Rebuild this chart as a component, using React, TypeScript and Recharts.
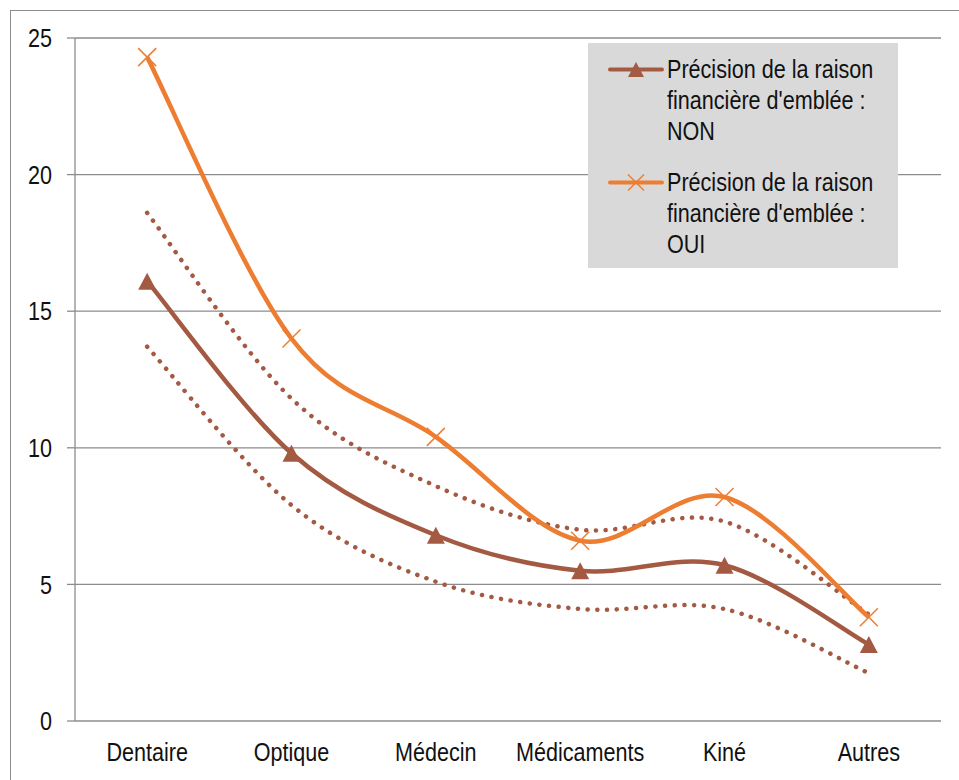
import React from 'react';
import {
  LineChart,
  Line,
  XAxis,
  YAxis,
  CartesianGrid,
  Legend,
} from 'recharts';

// values
const categories = ['Dentaire', 'Optique', 'Médecin', 'Médicaments', 'Kiné', 'Autres'];
const nonValues = [16.1, 9.8, 6.8, 5.5, 5.7, 2.8];
const ouiValues = [24.3, 14.0, 10.4, 6.6, 8.2, 3.8];
const nonUpper = [18.6, 11.8, 8.6, 7.0, 7.3, 3.9];
const nonLower = [13.7, 7.9, 5.1, 4.1, 4.1, 1.75];
const yTicks = [0, 5, 10, 15, 20, 25];
const edgeTicks = [0, 1, 2, 3, 4, 5, 6];

const labelNon = "Précision de la raison financière d'emblée : NON";
const labelOui = "Précision de la raison financière d'emblée : OUI";

const BROWN = '#A45A42';
const ORANGE = '#ED7D31';
const GRID = '#8c8c8c';
const FONT = "'Liberation Sans', Arial, sans-serif";
const NARROW = 0.83; // Arial Narrow look: squeeze Liberation Sans horizontally

const data = categories.map((cat, i) => ({
  cat,
  non: nonValues[i],
  oui: ouiValues[i],
  upper: nonUpper[i],
  lower: nonLower[i],
}));

// Excel-like smoothed line (Catmull-Rom converted to bezier)
function excelSmooth(context: any) {
  let pts: number[][] = [];
  return {
    areaStart() {},
    areaEnd() {},
    lineStart() {
      pts = [];
    },
    point(x: number, y: number) {
      pts.push([+x, +y]);
    },
    lineEnd() {
      const n = pts.length;
      if (!n) return;
      context.moveTo(pts[0][0], pts[0][1]);
      for (let i = 0; i < n - 1; i++) {
        const p0 = pts[Math.max(i - 1, 0)];
        const p1 = pts[i];
        const p2 = pts[i + 1];
        const p3 = pts[Math.min(i + 2, n - 1)];
        context.bezierCurveTo(
          p1[0] + (p2[0] - p0[0]) / 6,
          p1[1] + (p2[1] - p0[1]) / 6,
          p2[0] - (p3[0] - p1[0]) / 6,
          p2[1] - (p3[1] - p1[1]) / 6,
          p2[0],
          p2[1]
        );
      }
    },
  };
}

const Triangle = ({ cx, cy, w = 18, h = 17 }: any) => (
  <path
    d={`M${cx},${cy - h / 2} L${cx + w / 2},${cy + h / 2} L${cx - w / 2},${cy + h / 2} Z`}
    fill={BROWN}
  />
);

const Cross = ({ cx, cy, s = 9 }: any) => (
  <path
    d={`M${cx - s},${cy - s} L${cx + s},${cy + s} M${cx - s},${cy + s} L${cx + s},${cy - s}`}
    stroke={ORANGE}
    strokeWidth={1.5}
    fill="none"
  />
);

const renderTriangle = (props: any) => (
  <Triangle key={`t-${props.index}`} cx={props.cx} cy={props.cy} />
);
const renderCross = (props: any) => (
  <Cross key={`x-${props.index}`} cx={props.cx} cy={props.cy} />
);

const XTick = ({ x, y, payload }: any) => (
  <text
    transform={`translate(${x},${y}) scale(${NARROW},1)`}
    textAnchor="middle"
    dy="0.71em"
    fill="#111"
    fontSize={26}
    fontFamily={FONT}
  >
    {payload.value}
  </text>
);

const YTick = ({ x, y, payload }: any) => (
  <text
    transform={`translate(${x},${y}) scale(${NARROW},1)`}
    textAnchor="end"
    dy="0.355em"
    fill="#111"
    fontSize={26}
    fontFamily={FONT}
  >
    {payload.value}
  </text>
);

function LegendBox() {
  const items = [
    { label: labelNon, color: BROWN, marker: 'triangle' },
    { label: labelOui, color: ORANGE, marker: 'cross' },
  ];
  return (
    <div
      style={{
        width: 310,
        height: 225,
        background: '#d9d9d9',
        fontFamily: FONT,
        fontSize: 26,
        lineHeight: '31px',
        color: '#111',
        position: 'relative',
      }}
    >
      {items.map((it, i) => (
        <div
          key={it.label}
          style={{ position: 'absolute', left: 0, top: i === 0 ? 10.5 : 123.5, width: 310 }}
        >
          <svg width={56} height={31} style={{ position: 'absolute', left: 20, top: 0 }}>
            <line x1={2} y1={15.5} x2={54} y2={15.5} stroke={it.color} strokeWidth={4} strokeLinecap="round" />
            {it.marker === 'triangle' ? (
              <Triangle cx={28} cy={15.5} w={16} h={15} />
            ) : (
              <Cross cx={28} cy={15.5} s={8} />
            )}
          </svg>
          <div
            style={{
              position: 'absolute',
              left: 79,
              top: 0,
              width: 262,
              transform: `scaleX(${NARROW})`,
              transformOrigin: 'left top',
            }}
          >
            {it.label}
          </div>
        </div>
      ))}
    </div>
  );
}

export default function App() {
  return (
    <div style={{ position: 'absolute', left: 0, top: 0, width: 959, height: 780, overflow: 'hidden', background: '#fff' }}>
      <div
        style={{
          position: 'absolute',
          left: 10,
          top: 10,
          width: 1000,
          height: 1000,
          border: `1.5px solid ${GRID}`,
        }}
      />
      <div style={{ position: 'absolute', left: 10, top: 10 }}>
        <LineChart
          width={949}
          height={770}
          data={data}
          margin={{ top: 28, right: 18, left: 0, bottom: 0 }}
          style={{ fontFamily: FONT }}
        >
          <CartesianGrid vertical={false} stroke={GRID} strokeWidth={1.3} />
          <XAxis
            xAxisId="edges"
            type="number"
            domain={[0, 6]}
            ticks={edgeTicks}
            height={0}
            tickSize={5}
            tickFormatter={() => ''}
            axisLine={{ stroke: GRID, strokeWidth: 1.3 }}
            tickLine={{ stroke: GRID, strokeWidth: 1.3 }}
            allowDataOverflow
          />
          <XAxis
            xAxisId="cat"
            dataKey="cat"
            scale="band"
            height={59}
            axisLine={false}
            tickLine={false}
            tickSize={6}
            tickMargin={16}
            interval={0}
            tick={<XTick />}
          />
          <YAxis
            domain={[0, 25]}
            ticks={yTicks}
            width={65}
            tickSize={8}
            tickMargin={15}
            axisLine={{ stroke: GRID, strokeWidth: 1.3 }}
            tickLine={{ stroke: GRID, strokeWidth: 1.3 }}
            tick={<YTick />}
          />
          <Legend
            layout="vertical"
            align="center"
            verticalAlign="middle"
            wrapperStyle={{ position: 'absolute', left: 578, top: 33, width: 310, height: 225 }}
            content={() => <LegendBox />}
          />
          <Line
            xAxisId="cat"
            dataKey="upper"
            type={excelSmooth as any}
            stroke={BROWN}
            strokeWidth={4.5}
            strokeDasharray="0.1 9.6"
            strokeLinecap="round"
            dot={false}
            activeDot={false}
            legendType="none"
            isAnimationActive={false}
          />
          <Line
            xAxisId="cat"
            dataKey="lower"
            type={excelSmooth as any}
            stroke={BROWN}
            strokeWidth={4.5}
            strokeDasharray="0.1 9.6"
            strokeLinecap="round"
            dot={false}
            activeDot={false}
            legendType="none"
            isAnimationActive={false}
          />
          <Line
            xAxisId="cat"
            dataKey="non"
            name={labelNon}
            type={excelSmooth as any}
            stroke={BROWN}
            strokeWidth={4.5}
            dot={renderTriangle}
            activeDot={false}
            isAnimationActive={false}
          />
          <Line
            xAxisId="cat"
            dataKey="oui"
            name={labelOui}
            type={excelSmooth as any}
            stroke={ORANGE}
            strokeWidth={4.5}
            dot={renderCross}
            activeDot={false}
            isAnimationActive={false}
          />
        </LineChart>
      </div>
    </div>
  );
}
